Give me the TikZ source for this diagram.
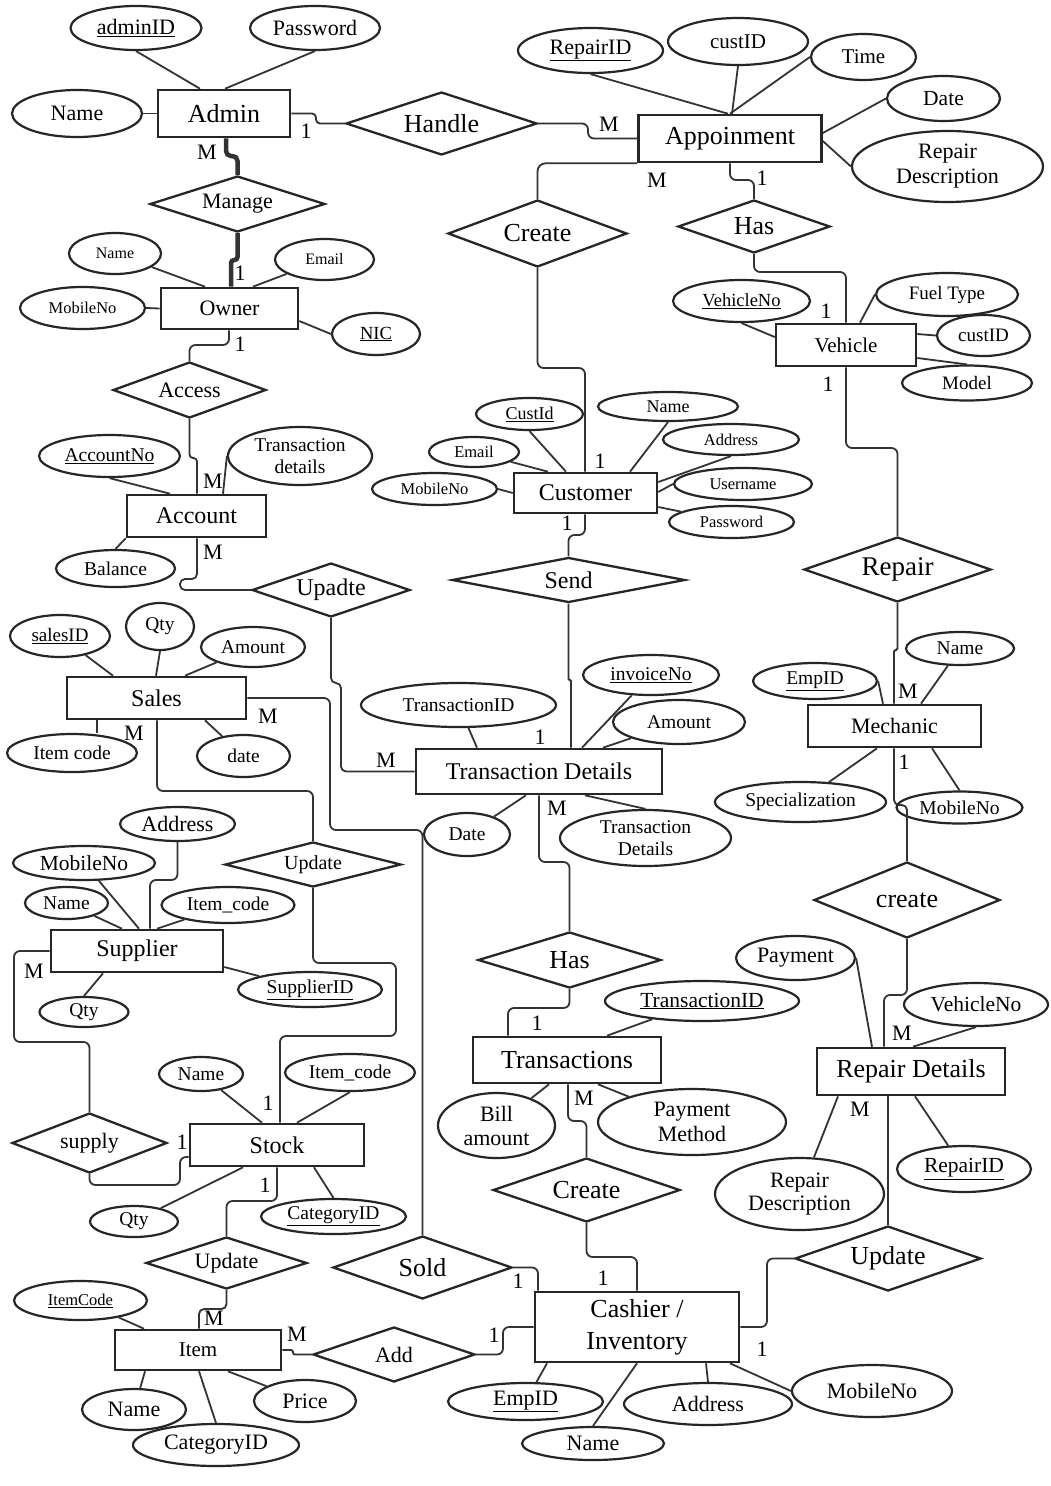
\documentclass[tikz,border=0pt]{standalone}
\usepackage{fontspec}
\setmainfont{Liberation Serif}
\usetikzlibrary{shapes.geometric}
\begin{document}
\begin{tikzpicture}[x=1pt,y=-1pt,
  ent/.style n args={2}{draw=black!85, line width=2.6pt, rectangle, inner sep=0pt, minimum width=#1pt, minimum height=#2pt},
  rel/.style n args={2}{draw=black!85, line width=2.3pt, diamond, aspect=3, inner sep=0pt, minimum width=#1pt, minimum height=#2pt},
  att/.style n args={2}{draw=black!85, line width=2.2pt, ellipse, inner sep=0pt, minimum width=#1pt, minimum height=#2pt},
  fs/.style={font=\fontsize{#1}{#1}\selectfont},
  ln/.style={draw=black!80, line width=1.8pt, rounded corners=#1},
  ln/.default=6pt,
  card/.style={inner sep=0pt, font=\fontsize{22}{22}\selectfont},
]
\fill[white] (0,0) rectangle (1051,1486);
\useasboundingbox (0,0) rectangle (1051,1486);

% ---------- Entities ----------
\node[ent={132}{47}, fs=26] (admin) at (224,113.5) {Admin};
\node[ent={183}{47}, fs=26] (appoint) at (730,138.5) {Appoinment};
\node[ent={137}{41}, fs=22] (owner) at (229.5,308.5) {Owner};
\node[ent={140}{42}, fs=21] (vehicle) at (846,345) {Vehicle};
\node[ent={143}{40}, fs=24] (customer) at (585.5,493) {Customer};
\node[ent={139}{42}, fs=24] (account) at (196.5,516) {Account};
\node[ent={179}{42}, fs=24] (sales) at (156.5,698) {Sales};
\node[ent={173}{42}, fs=22] (mechanic) at (894.5,726) {Mechanic};
\node[ent={246}{45}, fs=24] (tdet) at (539,771.5) {Transaction Details};
\node[ent={172}{42}, fs=24] (supplier) at (137,951) {Supplier};
\node[ent={188}{46}, fs=26] (trans) at (567,1060) {Transactions};
\node[ent={188}{47}, fs=26] (rdet) at (911,1071.5) {Repair Details};
\node[ent={174}{42}, fs=24] (stock) at (277,1145) {Stock};
\node[ent={166}{40}, fs=21] (item) at (198,1350) {Item};
\node[ent={204}{70}, align=center, font=\fontsize{26}{32}\selectfont] (cashier) at (637,1327) {Cashier /\\Inventory};

% ---------- Relationships ----------
\node[rel={191}{63}, fs=26] (handle) at (441.5,123.5) {Handle};
\node[rel={175}{56}, fs=22] (manage) at (237.5,204) {Manage};
\node[rel={179}{67}, fs=26] (createA) at (537.5,233.5) {Create};
\node[rel={152}{53}, fs=26] (hasA) at (754,226.5) {Has};
\node[rel={153}{56}, fs=22] (access) at (189.5,390) {Access};
\node[rel={233}{45}, fs=24] (send) at (568.5,580) {Send};
\node[rel={187}{65}, fs=27] (repair) at (897.5,569.5) {Repair};
\node[rel={158}{54}, fs=24] (upadte) at (331,590) {Upadte};
\node[rel={176}{45}, fs=20] (updM) at (313,864.5) {Update};
\node[rel={183}{56}, fs=26] (hasB) at (569.5,960) {Has};
\node[rel={186}{76}, fs=26] (createR) at (907,900) {create};
\node[rel={155}{60}, fs=22] (supply) at (89.5,1143) {supply};
\node[rel={187}{64}, fs=26] (createB) at (586.5,1190) {Create};
\node[rel={161}{52}, fs=22] (updL) at (226.5,1263) {Update};
\node[rel={179}{63}, fs=26] (sold) at (422.5,1267.5) {Sold};
\node[rel={162}{55}, fs=22] (add) at (394,1354.5) {Add};
\node[rel={186}{65}, fs=26] (updR) at (888,1258.5) {Update};

% ---------- Attributes ----------
\node[att={131}{44}, fs=22] (adminid) at (136,28) {\underline{adminID}};
\node[att={130}{44}, fs=22] (apass) at (315,28) {Password};
\node[att={130}{47}, fs=22] (aname) at (77,113.5) {Name};

\node[att={145}{45}, fs=22] (prid) at (590.5,50.5) {\underline{RepairID}};
\node[att={140}{47}, fs=21] (pcust) at (738,41.5) {custID};
\node[att={105}{46}, fs=21] (ptime) at (863.5,57) {Time};
\node[att={113}{45}, fs=21.5] (pdate) at (943.5,98.5) {Date};
\node[att={191}{71}, align=center, font=\fontsize{22}{25}\selectfont] (pdesc) at (947.5,166.5) {Repair\\Description};

\node[att={92}{41}, fs=16] (oname) at (115,253.5) {Name};
\node[att={99}{41}, fs=16] (oemail) at (324.5,259.5) {Email};
\node[att={125}{42}, fs=16.5] (omob) at (82.5,308) {MobileNo};
\node[att={88}{42}, fs=18.5] (onic) at (376,334) {\underline{NIC}};

\node[att={137}{42}, fs=18.5] (vno) at (741.5,301) {\underline{VehicleNo}};
\node[att={142}{43}, fs=19] (vfuel) at (947,294.5) {Fuel Type};
\node[att={93}{41}, fs=19] (vcust) at (983.5,335.5) {custID};
\node[att={130}{35}, fs=19] (vmodel) at (967,383) {Model};

\node[att={141}{42}, fs=19.5] (accno) at (109.5,456) {\underline{AccountNo}};
\node[att={144}{58}, align=center, font=\fontsize{19.5}{22}\selectfont] (acctx) at (300,456) {Transaction\\details};
\node[att={119}{37}, fs=19.5] (abal) at (115.5,568.5) {Balance};

\node[att={107}{32}, fs=18] (ccid) at (529.5,414) {\underline{CustId}};
\node[att={140}{29}, fs=18] (cname) at (668,406.5) {Name};
\node[att={90}{30}, fs=16.5] (cemail) at (474,452) {Email};
\node[att={136}{31}, fs=16.5] (caddr) at (731,439.5) {Address};
\node[att={125}{32}, fs=16.5] (cmob) at (434.5,489) {MobileNo};
\node[att={138}{32}, fs=16.5] (cuser) at (743,484) {Username};
\node[att={125}{32}, fs=16.5] (cpass) at (731.5,522) {Password};

\node[att={100}{42}, fs=19] (slid) at (60,636) {\underline{salesID}};
\node[att={68}{47}, fs=19.5] (sqty) at (160,626.5) {Qty};
\node[att={104}{40}, fs=19.5] (samt) at (253,647) {Amount};
\node[att={130}{38}, fs=19.5] (sic) at (72,753) {Item code};
\node[att={93}{42}, fs=19.5] (sdate) at (243.5,756) {date};

\node[att={195}{44}, fs=19.5] (ttid) at (458.5,705) {TransactionID};
\node[att={136}{40}, fs=19.5] (tinv) at (651,675) {\underline{invoiceNo}};
\node[att={132}{44}, fs=19.5] (tamt) at (679,722) {Amount};
\node[att={86}{43}, fs=19.5] (tdate) at (467,834.5) {Date};
\node[att={171}{56}, align=center, font=\fontsize{19.5}{22}\selectfont] (tdd) at (645.5,838) {Transaction\\Details};

\node[att={124}{36}, fs=19.5] (mempid) at (815,681) {\underline{EmpID}};
\node[att={108}{33}, fs=19.5] (mname) at (960,648.5) {Name};
\node[att={171}{40}, fs=19.5] (mspec) at (800.5,802) {Specialization};
\node[att={126}{32}, fs=19.5] (mmob) at (959.5,807.5) {MobileNo};

\node[att={115}{34}, fs=22] (saddr) at (177.5,824) {Address};
\node[att={142}{34}, fs=21.5] (smob) at (84,863) {MobileNo};
\node[att={83}{32}, fs=19.5] (sname) at (66.5,903) {Name};
\node[att={133}{36}, fs=19.5] (sitem) at (228,905) {Item\_code};
\node[att={144}{35}, fs=19.5] (ssupid) at (310,989.5) {\underline{SupplierID}};
\node[att={89}{30}, fs=19.5] (supqty) at (84,1012) {Qty};

\node[att={194}{40}, fs=21.5] (trid) at (702,1001) {\underline{TransactionID}};
\node[att={117}{65}, align=center, font=\fontsize{22}{24}\selectfont] (tbill) at (496.5,1125.5) {Bill\\amount};
\node[att={188}{66}, align=center, font=\fontsize{22}{25}\selectfont] (tpay) at (692,1122) {Payment\\Method};

\node[att={119}{44}, fs=22] (rpay) at (795.5,958) {Payment};
\node[att={144}{43}, fs=21.5] (rvno) at (976,1004.5) {VehicleNo};
\node[att={169}{72}, align=center, font=\fontsize{22}{23}\selectfont] (rdesc) at (799.5,1194) {Repair\\Description};
\node[att={134}{46}, fs=21.5] (rrid) at (964,1169) {\underline{RepairID}};

\node[att={84}{34}, fs=19.5] (stname) at (201,1074) {Name};
\node[att={130}{37}, fs=19.5] (stitem) at (350,1072.5) {Item\_code};
\node[att={88}{31}, fs=19.5] (stqty) at (134,1221.5) {Qty};
\node[att={145}{35}, fs=19.5] (stcat) at (333.5,1216.5) {\underline{CategoryID}};

\node[att={133}{39}, fs=16.5] (iic) at (80.5,1300.5) {\underline{ItemCode}};
\node[att={104}{41}, fs=22] (iname) at (134,1409.5) {Name};
\node[att={166}{42}, fs=22] (icat) at (216,1445) {CategoryID};
\node[att={102}{42}, fs=22] (iprice) at (305,1401) {Price};

\node[att={155}{37}, fs=22] (kempid) at (525.5,1401.5) {\underline{EmpID}};
\node[att={142}{33}, fs=22] (kname) at (593,1443.5) {Name};
\node[att={168}{42}, fs=22] (kaddr) at (708,1404) {Address};
\node[att={160}{52}, fs=22] (kmob) at (872,1391) {MobileNo};

% ---------- Relationship connectors ----------
\draw[ln=4pt] (admin.east) -| (316,123.5) -- (handle.west);
\draw[ln] (handle.east) -| (588,138.5) -- (appoint.west);
\draw[ln=5pt, line width=4.5pt] (226,0 |- admin.south) |- (237.5,156) -- (manage.north);
\draw[ln=3pt, line width=4.5pt] (manage.south) |- (231,260) -- (231,0 |- owner.north);
\draw[ln] (229,0 |- owner.south) |- (189.5,345) -- (access.north);
\draw[ln=3.5pt] (access.south) |- (197,458) -- (197,0 |- account.north);
\draw[ln=5pt] (197,0 |- account.south) |- (180,579) |- (upadte.west);
\draw[ln=5pt] (upadte.south) |- (341,683) |- (tdet.west);
\draw[ln=8pt] (appoint.south west) -| (createA.north);
\draw[ln] (730,0 |- appoint.south) |- (754,180) -- (hasA.north);
\draw[ln] (hasA.south) |- (846,272) -- (vehicle.north);
\draw[ln] (createA.south) |- (585,368) -- (585,0 |- customer.north);
\draw[ln] (vehicle.south) |- (897.5,448) -- (repair.north);
\draw[ln=1.5pt] (repair.south) |- (894,650) -- (894,0 |- mechanic.north);
\draw[ln] (585,0 |- customer.south) |- (568.5,535) -- (send.north);
\draw[ln=1pt] (send.south) |- (571,680) -- (571,0 |- tdet.north);
\draw[ln] (539,0 |- tdet.south) |- (569.5,862) -- (hasB.north);
\draw[ln] (hasB.south) |- (508,1008) -- (508,0 |- trans.north);
\draw[ln] (568,0 |- trans.south) |- (586.5,1121) -- (createB.north);
\draw[ln] (createB.south) |- (637,1257) -- (cashier.north);
\draw[ln=5pt] (894,0 |- mechanic.south) |- (907,805) -- (createR.north);
\draw[ln] (createR.south) |- (884,995) -- (884,0 |- rdet.north);
\draw[ln] (888,0 |- rdet.south) -- (updR.north);
\draw[ln] (updR.west) -| (767,1327) -- (cashier.east);
\draw[ln] (sold.east) -| (538,0 |- cashier.north);
\draw[ln] (add.east) -| (503,1327) -- (cashier.west);
\draw[ln=2pt] (item.east) -| (293,1354.5) -- (add.west);
\draw[ln=5pt] (updL.south) |- (199,1309) -- (199,0 |- item.north);
\draw[ln] (277,0 |- stock.south) |- (226.5,1201) -- (updL.north);
\draw[ln] (supply.south) |- (180,1185) |- (stock.west |- 0,1157);
\draw[ln] (supplier.west) -| (14,1042) -| (supply.north);
\draw[ln] (157,0 |- sales.south) |- (313,791) -- (updM.north);
\draw[ln] (updM.south) |- (396,963) |- (280,1036) -- (280,0 |- stock.north);
\draw[ln] (sales.east) -| (330,830) -| (sold.north);

% ---------- Attribute connectors ----------
\draw[ln] (adminid.south) -- (200,0 |- admin.north);
\draw[ln] (apass.south) -- (225,0 |- admin.north);
\draw[ln] (aname.east) -- (admin.west);

\draw[ln] (prid.south) -- (728,0 |- appoint.north);
\draw[ln] (pcust.south) -- (732,0 |- appoint.north);
\draw[ln] (ptime.west) -- (730,0 |- appoint.north);
\draw[ln] (pdate.west) -- (appoint.east |- 0,133);
\draw[ln] (pdesc.west) -- (appoint.east |- 0,141);

\draw[ln] (oname) -- (205,0 |- owner.north);
\draw[ln] (oemail) -- (253,0 |- owner.north);
\draw[ln] (omob.east) -- (owner.west);
\draw[ln] (onic.west) -- (owner.east |- 0,321);

\draw[ln] (vno.south) -- (vehicle.west |- 0,337);
\draw[ln] (vfuel.west) -- (860,0 |- vehicle.north);
\draw[ln] (vcust.west) -- (vehicle.east |- 0,334);
\draw[ln] (vehicle.east |- 0,358) -- (vmodel.north);

\draw[ln] (accno.south) -- (170,0 |- account.north);
\draw[ln] (acctx.west) -- (223,0 |- account.north);
\draw[ln] (abal.north) -- (account.south west);

\draw[ln] (ccid.south) -- (566,0 |- customer.north);
\draw[ln] (cemail) -- (548,0 |- customer.north);
\draw[ln] (cmob.east) -- (customer.west);
\draw[ln] (cname.south) -- (630,0 |- customer.north);
\draw[ln] (caddr.south) -- (customer.east |- 0,482);
\draw[ln] (cuser.west) -- (customer.east |- 0,492);
\draw[ln] (cpass) -- (customer.east |- 0,507);

\draw[ln] (slid) -- (113,0 |- sales.north);
\draw[ln] (sqty.south) -- (156,0 |- sales.north);
\draw[ln] (samt) -- (185,0 |- sales.north);
\draw[ln] (97,0 |- sic.north) -- (97,0 |- sales.south);
\draw[ln] (sdate) -- (205,0 |- sales.south);

\draw[ln] (ttid) -- (477,0 |- tdet.north);
\draw[ln] (tinv) -- (582,0 |- tdet.north);
\draw[ln] (tamt) -- (603,0 |- tdet.north);
\draw[ln] (tdate) -- (526,0 |- tdet.south);
\draw[ln] (585,0 |- tdet.south) -- (tdd.north);

\draw[ln] (mempid.east) -- (883,0 |- mechanic.north);
\draw[ln] (mname) -- (921,0 |- mechanic.north);
\draw[ln] (mspec) -- (877,0 |- mechanic.south);
\draw[ln] (932,0 |- mechanic.south) -- (mmob.north);

\draw[ln] (saddr.south) |- (150,880) -- (150,0 |- supplier.north);
\draw[ln] (smob) -- (139,0 |- supplier.north);
\draw[ln] (sname) -- (122,0 |- supplier.north);
\draw[ln] (sitem) -- (157,0 |- supplier.north);
\draw[ln] (ssupid) -- (supplier.east |- 0,967);
\draw[ln] (supqty.north) -- (103,0 |- supplier.south);

\draw[ln] (trid) -- (607,0 |- trans.north);
\draw[ln] (tbill) -- (549,0 |- trans.south);
\draw[ln] (tpay) -- (598,0 |- trans.south);

\draw[ln] (rpay.east) -- (872,0 |- rdet.north);
\draw[ln] (rvno.south) -- (913,0 |- rdet.north);
\draw[ln] (rdesc) -- (838,0 |- rdet.south);
\draw[ln] (rrid) -- (915,0 |- rdet.south);

\draw[ln] (stname) -- (262,0 |- stock.north);
\draw[ln] (stitem.south) -- (297,0 |- stock.north);
\draw[ln] (stqty) -- (243,0 |- stock.south);
\draw[ln] (stcat.north) -- (314,0 |- stock.south);

\draw[ln] (iic) -- (144,0 |- item.north);
\draw[ln] (iname) -- (145,0 |- item.south);
\draw[ln] (icat.north) -- (199,0 |- item.south);
\draw[ln] (iprice) -- (228,0 |- item.south);

\draw[ln] (kempid) -- (547,0 |- cashier.south);
\draw[ln] (kname.north) -- (637,0 |- cashier.south);
\draw[ln] (kaddr.north) -- (706,0 |- cashier.south);
\draw[ln] (kmob.west) -- (730,0 |- cashier.south);

% ---------- Cardinalities ----------
\node[card] (k1) at (306,131) {1};
\node[card] (k2) at (609,124) {M};
\node[card] (k3) at (207,152) {M};
\node[card] (k4) at (240,273) {1};
\node[card] (k5) at (240,344) {1};
\node[card] (k6) at (213,481) {M};
\node[card] (k7) at (213,552) {M};
\node[card] (k8) at (386,760) {M};
\node[card] (k9) at (657,180) {M};
\node[card] (k10) at (762,178) {1};
\node[card] (k11) at (826,311) {1};
\node[card] (k12) at (828,384) {1};
\node[card] (k13) at (600,461) {1};
\node[card] (k14) at (567,523) {1};
\node[card] (k15) at (540,737) {1};
\node[card] (k16) at (908,691) {M};
\node[card] (k17) at (557,808) {M};
\node[card] (k18) at (537,1023) {1};
\node[card] (k19) at (584,1098) {M};
\node[card] (k20) at (603,1278) {1};
\node[card] (k21) at (904,762) {1};
\node[card] (k22) at (902,1033) {M};
\node[card] (k23) at (860,1109) {M};
\node[card] (k24) at (762,1349) {1};
\node[card] (k25) at (518,1281) {1};
\node[card] (k26) at (494,1335) {1};
\node[card] (k27) at (297,1334) {M};
\node[card] (k28) at (214,1318) {M};
\node[card] (k29) at (265,1185) {1};
\node[card] (k30) at (182,1142) {1};
\node[card] (k31) at (34,971) {M};
\node[card] (k32) at (268,1103) {1};
\node[card] (k33) at (134,733) {M};
\node[card] (k34) at (268,716) {M};
\end{tikzpicture}
\end{document}
